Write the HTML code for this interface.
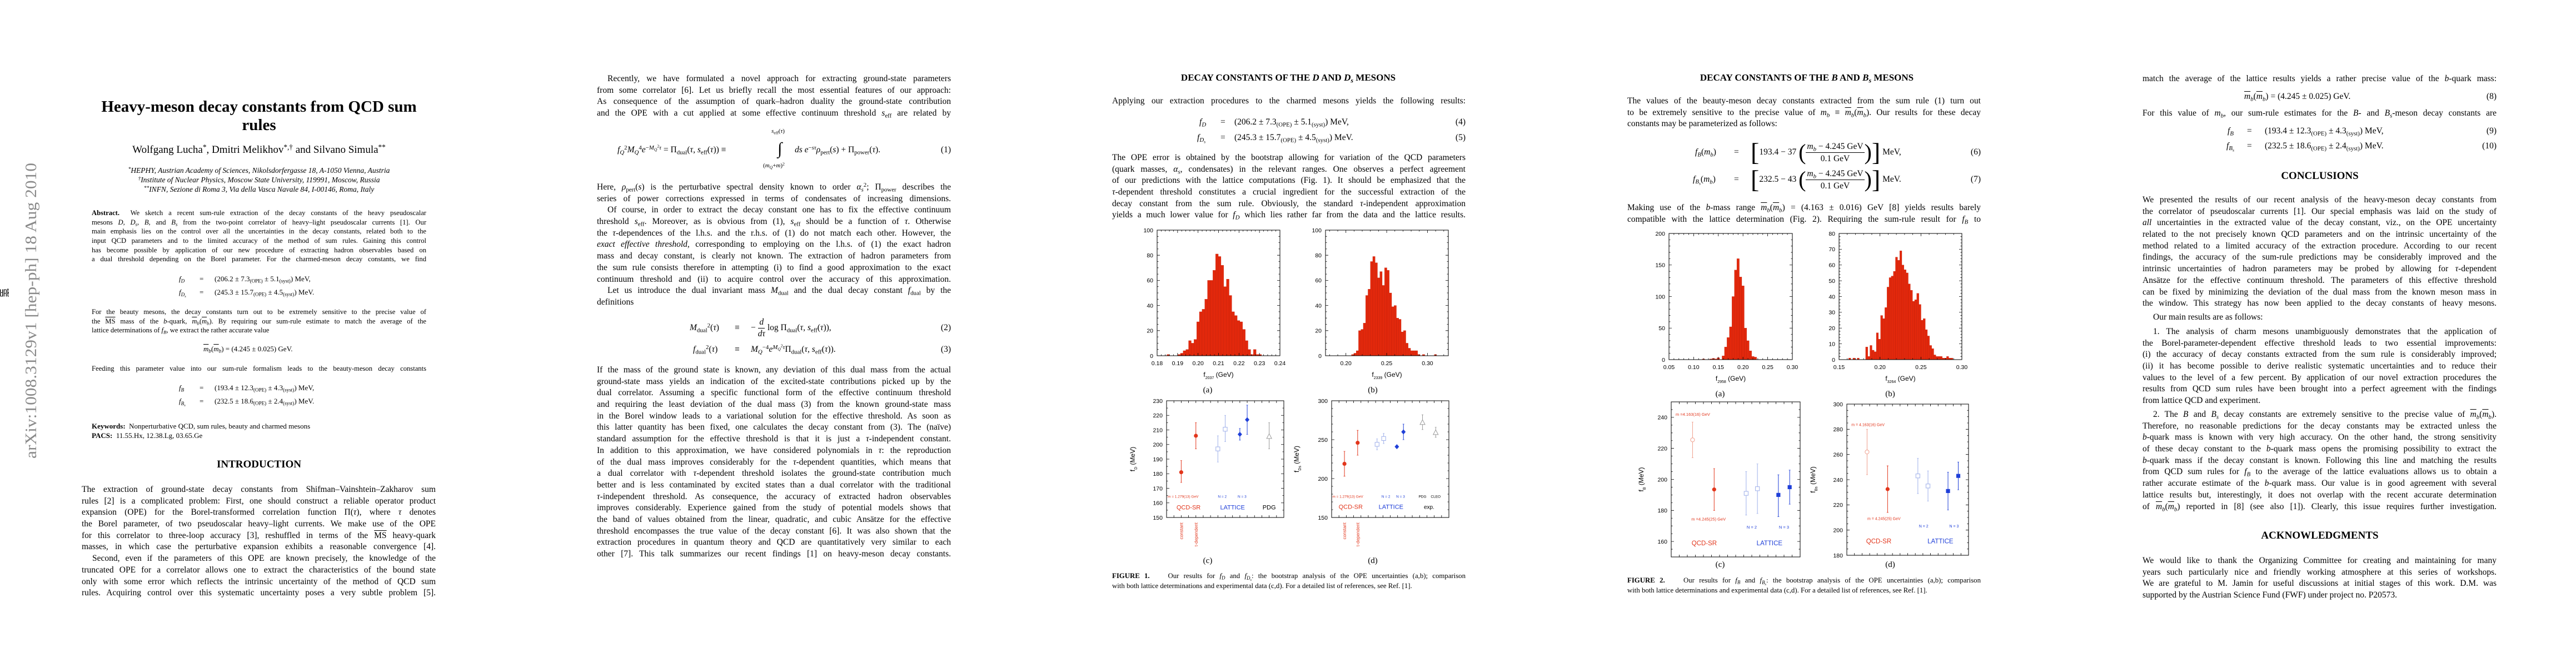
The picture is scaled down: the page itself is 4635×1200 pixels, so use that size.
<!DOCTYPE html>
<html><head><meta charset="utf-8">
<style>
html,body{margin:0;padding:0;background:#fff;}
body{width:4635px;height:1200px;position:relative;overflow:hidden;font-family:"Liberation Serif",serif;color:#000;}
.blk{position:absolute;font-size:15.5px;line-height:20.7px;}
.blk>div{text-align:justify;text-align-last:justify;white-space:nowrap;height:20.7px;}
.blk>div.e{text-align-last:left;}
.blk>div.i{padding-left:19px;}
.abs{position:absolute;white-space:nowrap;}
.sm{font-size:12.6px;line-height:16.7px;}
.sm>div{height:16.7px;}
sub,sup{font-size:70%;line-height:0;}
sub{vertical-align:-0.3em;}
sup{vertical-align:0.45em;}
.ov{text-decoration:overline;}
.hd{position:absolute;font-weight:bold;text-align:center;white-space:nowrap;transform:translateX(-50%);}
.eq{position:absolute;white-space:nowrap;font-size:15.5px;line-height:20px;}
.num{position:absolute;white-space:nowrap;font-size:15.5px;line-height:20px;text-align:right;}
.cap{position:absolute;font-size:12.8px;line-height:17px;}
.cap>div{white-space:nowrap;text-align:justify;text-align-last:justify;height:17.5px;}
.cap>div.e{text-align-last:left;}
.sl{position:absolute;font-size:15px;transform:translateX(-50%);white-space:nowrap;}
.tk{font-family:"Liberation Sans",sans-serif;font-size:10.5px;}
.fr{display:inline-flex;flex-direction:column;align-items:center;vertical-align:middle;line-height:22px;}
.fr>span:first-child{border-bottom:1px solid #000;padding:0 2px;}
</style></head>
<body>

<!-- ================= PAGE 1 ================= -->
<svg class="abs" style="left:20px;top:280px" width="60" height="560">
<text x="0" y="0" transform="translate(45,545) rotate(-90)" font-family="Liberation Serif, serif" font-size="29" fill="#8a8a8a" textLength="532" lengthAdjust="spacingAndGlyphs">arXiv:1008.3129v1  [hep-ph]  18 Aug 2010</text>
</svg>

<div class="hd" style="left:466px;top:176px;font-size:29px;line-height:33px;">Heavy-meson decay constants from QCD sum<br>rules</div>
<div class="hd" style="left:466px;top:259px;font-size:19px;font-weight:normal;">Wolfgang Lucha<sup>*</sup>, Dmitri Melikhov<sup>*,†</sup> and Silvano Simula<sup>**</sup></div>
<div class="hd" style="left:466px;top:298px;font-size:13.5px;line-height:17px;font-weight:normal;font-style:italic;"><sup>*</sup>HEPHY, Austrian Academy of Sciences, Nikolsdorfergasse 18, A-1050 Vienna, Austria<br><sup>†</sup>Institute of Nuclear Physics, Moscow State University, 119991, Moscow, Russia<br><sup>**</sup>INFN, Sezione di Roma 3, Via della Vasca Navale 84, I-00146, Roma, Italy</div>

<div class="blk sm" style="left:165px;top:375px;width:602px;">
<div><b>Abstract.</b>&nbsp; We sketch a recent sum-rule extraction of the decay constants of the heavy pseudoscalar</div>
<div>mesons <i>D</i>, <i>D<sub>s</sub></i>, <i>B</i>, and <i>B<sub>s</sub></i> from the two-point correlator of heavy–light pseudoscalar currents [1]. Our</div>
<div>main emphasis lies on the control over all the uncertainties in the decay constants, related both to the</div>
<div>input QCD parameters and to the limited accuracy of the method of sum rules. Gaining this control</div>
<div>has become possible by application of our new procedure of extracting hadron observables based on</div>
<div>a dual threshold depending on the Borel parameter. For the charmed-meson decay constants, we find</div>
</div>
<div class="eq" style="left:322px;top:492px;font-size:13px;"><i>f<sub>D</sub></i></div>
<div class="eq" style="left:359px;top:492px;font-size:13px;">=</div>
<div class="eq" style="left:386px;top:492px;font-size:13px;">(206.2 ± 7.3<sub>(OPE)</sub> ± 5.1<sub>(syst)</sub>) MeV,</div>
<div class="eq" style="left:322px;top:516px;font-size:13px;"><i>f<sub>D<sub>s</sub></sub></i></div>
<div class="eq" style="left:359px;top:516px;font-size:13px;">=</div>
<div class="eq" style="left:386px;top:516px;font-size:13px;">(245.3 ± 15.7<sub>(OPE)</sub> ± 4.5<sub>(syst)</sub>) MeV.</div>

<div class="blk sm" style="left:165px;top:553px;width:602px;">
<div>For the beauty mesons, the decay constants turn out to be extremely sensitive to the precise value of</div>
<div>the <span class="ov">MS</span> mass of the <i>b</i>-quark, <i class="ov">m</i><sub><i>b</i></sub>(<i class="ov">m</i><sub><i>b</i></sub>). By requiring our sum-rule estimate to match the average of the</div>
<div class="e">lattice determinations of <i>f<sub>B</sub></i>, we extract the rather accurate value</div>
</div>
<div class="eq" style="left:366px;top:618px;font-size:13px;"><i class="ov">m</i><sub><i>b</i></sub>(<i class="ov">m</i><sub><i>b</i></sub>) = (4.245 ± 0.025) GeV.</div>
<div class="blk sm" style="left:165px;top:655px;width:602px;">
<div>Feeding this parameter value into our sum-rule formalism leads to the beauty-meson decay constants</div>
</div>
<div class="eq" style="left:322px;top:688px;font-size:13px;"><i>f<sub>B</sub></i></div>
<div class="eq" style="left:359px;top:688px;font-size:13px;">=</div>
<div class="eq" style="left:386px;top:688px;font-size:13px;">(193.4 ± 12.3<sub>(OPE)</sub> ± 4.3<sub>(syst)</sub>) MeV,</div>
<div class="eq" style="left:322px;top:712px;font-size:13px;"><i>f<sub>B<sub>s</sub></sub></i></div>
<div class="eq" style="left:359px;top:712px;font-size:13px;">=</div>
<div class="eq" style="left:386px;top:712px;font-size:13px;">(232.5 ± 18.6<sub>(OPE)</sub> ± 2.4<sub>(syst)</sub>) MeV.</div>
<div class="abs" style="left:165px;top:758px;font-size:13px;line-height:17px;"><b>Keywords:</b>&nbsp; Nonperturbative QCD, sum rules, beauty and charmed mesons<br><b>PACS:</b>&nbsp; 11.55.Hx, 12.38.Lg, 03.65.Ge</div>

<div class="hd" style="left:466px;top:825px;font-size:19px;">INTRODUCTION</div>
<div class="blk" style="left:147px;top:871px;width:637px;">
<div>The extraction of ground-state decay constants from Shifman–Vainshtein–Zakharov sum</div>
<div>rules [2] is a complicated problem: First, one should construct a reliable operator product</div>
<div>expansion (OPE) for the Borel-transformed correlation function Π(<i>τ</i>), where <i>τ</i> denotes</div>
<div>the Borel parameter, of two pseudoscalar heavy–light currents. We make use of the OPE</div>
<div>for this correlator to three-loop accuracy [3], reshuffled in terms of the <span class="ov">MS</span> heavy-quark</div>
<div>masses, in which case the perturbative expansion exhibits a reasonable convergence [4].</div>
<div class="i">Second, even if the parameters of this OPE are known precisely, the knowledge of the</div>
<div>truncated OPE for a correlator allows one to extract the characteristics of the bound state</div>
<div>only with some error which reflects the intrinsic uncertainty of the method of QCD sum</div>
<div>rules. Acquiring control over this systematic uncertainty poses a very subtle problem [5].</div>
</div>

<!-- ================= PAGE 2 ================= -->
<div class="blk" style="left:1074px;top:132px;width:637px;">
<div class="i">Recently, we have formulated a novel approach for extracting ground-state parameters</div>
<div>from some correlator [6]. Let us briefly recall the most essential features of our approach:</div>
<div>As consequence of the assumption of quark–hadron duality the ground-state contribution</div>
<div>and the OPE with a cut applied at some effective continuum threshold <i>s</i><sub>eff</sub> are related by</div>
</div>
<div class="eq" style="left:1111px;top:260px;"><i>f</i><sub><i>Q</i></sub><sup>2</sup><i>M</i><sub><i>Q</i></sub><sup>4</sup><i>e</i><sup>−<i>M</i><sub><i>Q</i></sub><sup>2</sup><i>τ</i></sup> = Π<sub>dual</sub>(<i>τ</i>, <i>s</i><sub>eff</sub>(<i>τ</i>)) ≡</div>
<div class="eq" style="left:1399px;top:248px;font-size:30px;line-height:40px;">∫</div>
<div class="eq" style="left:1388px;top:226px;font-size:11px;"><i>s</i><sub>eff</sub>(<i>τ</i>)</div>
<div class="eq" style="left:1373px;top:288px;font-size:11px;">(<i>m<sub>Q</sub></i>+<i>m</i>)<sup>2</sup></div>
<div class="eq" style="left:1430px;top:260px;"><i>ds e</i><sup>−<i>sτ</i></sup><i>ρ</i><sub>pert</sub>(<i>s</i>) + Π<sub>power</sub>(<i>τ</i>).</div>
<div class="num" style="left:1650px;width:61px;top:260px;">(1)</div>

<div class="blk" style="left:1074px;top:327px;width:637px;">
<div>Here, <i>ρ</i><sub>pert</sub>(<i>s</i>) is the perturbative spectral density known to order <i>α</i><sub><i>s</i></sub><sup>2</sup>; Π<sub>power</sub> describes the</div>
<div>series of power corrections expressed in terms of condensates of increasing dimensions.</div>
<div class="i">Of course, in order to extract the decay constant one has to fix the effective continuum</div>
<div>threshold <i>s</i><sub>eff</sub>. Moreover, as is obvious from (1), <i>s</i><sub>eff</sub> should be a function of <i>τ</i>. Otherwise</div>
<div>the <i>τ</i>-dependences of the l.h.s. and the r.h.s. of (1) do not match each other. However, the</div>
<div><i>exact effective threshold</i>, corresponding to employing on the l.h.s. of (1) the exact hadron</div>
<div>mass and decay constant, is clearly not known. The extraction of hadron parameters from</div>
<div>the sum rule consists therefore in attempting (i) to find a good approximation to the exact</div>
<div>continuum threshold and (ii) to acquire control over the accuracy of this approximation.</div>
<div class="i">Let us introduce the dual invariant mass <i>M</i><sub>dual</sub> and the dual decay constant <i>f</i><sub>dual</sub> by the</div>
<div class="e">definitions</div>
</div>
<div class="eq" style="left:1241px;top:580px;"><i>M</i><sub>dual</sub><sup>2</sup>(<i>τ</i>)</div>
<div class="eq" style="left:1322px;top:580px;">≡</div>
<div class="eq" style="left:1351px;top:568px;line-height:44px;">− <span class="fr" style="line-height:20px;"><span><i>d</i></span><span><i>dτ</i></span></span> log Π<sub>dual</sub>(<i>τ</i>, <i>s</i><sub>eff</sub>(<i>τ</i>)),</div>
<div class="num" style="left:1650px;width:61px;top:580px;">(2)</div>
<div class="eq" style="left:1247px;top:619px;"><i>f</i><sub>dual</sub><sup>2</sup>(<i>τ</i>)</div>
<div class="eq" style="left:1322px;top:619px;">≡</div>
<div class="eq" style="left:1351px;top:619px;"><i>M</i><sub><i>Q</i></sub><sup>−4</sup><i>e</i><sup><i>M</i><sub><i>Q</i></sub><sup>2</sup><i>τ</i></sup>Π<sub>dual</sub>(<i>τ</i>, <i>s</i><sub>eff</sub>(<i>τ</i>)).</div>
<div class="num" style="left:1650px;width:61px;top:619px;">(3)</div>

<div class="blk" style="left:1074px;top:656px;width:637px;">
<div>If the mass of the ground state is known, any deviation of this dual mass from the actual</div>
<div>ground-state mass yields an indication of the excited-state contributions picked up by the</div>
<div>dual correlator. Assuming a specific functional form of the effective continuum threshold</div>
<div>and requiring the least deviation of the dual mass (3) from the known ground-state mass</div>
<div>in the Borel window leads to a variational solution for the effective threshold. As soon as</div>
<div>this latter quantity has been fixed, one calculates the decay constant from (3). The (naïve)</div>
<div>standard assumption for the effective threshold is that it is just a <i>τ</i>-independent constant.</div>
<div>In addition to this approximation, we have considered polynomials in <i>τ</i>: the reproduction</div>
<div>of the dual mass improves considerably for the <i>τ</i>-dependent quantities, which means that</div>
<div>a dual correlator with <i>τ</i>-dependent threshold isolates the ground-state contribution much</div>
<div>better and is less contaminated by excited states than a dual correlator with the traditional</div>
<div><i>τ</i>-independent threshold. As consequence, the accuracy of extracted hadron observables</div>
<div>improves considerably. Experience gained from the study of potential models shows that</div>
<div>the band of values obtained from the linear, quadratic, and cubic Ansätze for the effective</div>
<div>threshold encompasses the true value of the decay constant [6]. It was also shown that the</div>
<div>extraction procedures in quantum theory and QCD are quantitatively very similar to each</div>
<div>other [7]. This talk summarizes our recent findings [1] on heavy-meson decay constants.</div>
</div>

<!-- ================= PAGE 3 ================= -->
<div class="hd" style="left:2318px;top:130px;font-size:17px;">DECAY CONSTANTS OF THE <i>D</i> AND <i>D<sub>s</sub></i> MESONS</div>
<div class="blk" style="left:2001px;top:172px;width:636px;">
<div>Applying our extraction procedures to the charmed mesons yields the following results:</div>
</div>
<div class="eq" style="left:2158px;top:210px;"><i>f<sub>D</sub></i></div>
<div class="eq" style="left:2196px;top:210px;">=</div>
<div class="eq" style="left:2221px;top:210px;">(206.2 ± 7.3<sub>(OPE)</sub> ± 5.1<sub>(syst)</sub>) MeV,</div>
<div class="num" style="left:2580px;width:57px;top:210px;">(4)</div>
<div class="eq" style="left:2154px;top:238px;"><i>f<sub>D<sub>s</sub></sub></i></div>
<div class="eq" style="left:2196px;top:238px;">=</div>
<div class="eq" style="left:2221px;top:238px;">(245.3 ± 15.7<sub>(OPE)</sub> ± 4.5<sub>(syst)</sub>) MeV.</div>
<div class="num" style="left:2580px;width:57px;top:238px;">(5)</div>
<div class="blk" style="left:2001px;top:274px;width:636px;">
<div>The OPE error is obtained by the bootstrap allowing for variation of the QCD parameters</div>
<div>(quark masses, <i>α<sub>s</sub></i>, condensates) in the relevant ranges. One observes a perfect agreement</div>
<div>of our predictions with the lattice computations (Fig. 1). It should be emphasized that the</div>
<div><i>τ</i>-dependent threshold constitutes a crucial ingredient for the successful extraction of the</div>
<div>decay constant from the sum rule. Obviously, the standard <i>τ</i>-independent approximation</div>
<div>yields a much lower value for <i>f<sub>D</sub></i> which lies rather far from the data and the lattice results.</div>
</div>
<div class="sl" style="left:2173px;top:694px;">(a)</div>
<div class="sl" style="left:2470px;top:694px;">(b)</div>
<div class="sl" style="left:2173px;top:1001px;">(c)</div>
<div class="sl" style="left:2470px;top:1001px;">(d)</div>
<div class="cap" style="left:2001px;top:1028px;width:636px;">
<div><b>FIGURE 1.</b>&nbsp;&nbsp;&nbsp; Our results for <i>f<sub>D</sub></i> and <i>f<sub>D<sub>s</sub></sub></i>: the bootstrap analysis of the OPE uncertainties (a,b); comparison</div>
<div class="e">with both lattice determinations and experimental data (c,d). For a detailed list of references, see Ref. [1].</div>
</div>

<!-- ================= PAGE 4 ================= -->
<div class="hd" style="left:3251px;top:130px;font-size:17px;">DECAY CONSTANTS OF THE <i>B</i> AND <i>B<sub>s</sub></i> MESONS</div>
<div class="blk" style="left:2928px;top:172px;width:636px;">
<div>The values of the beauty-meson decay constants extracted from the sum rule (1) turn out</div>
<div>to be extremely sensitive to the precise value of <i>m<sub>b</sub></i> ≡ <i class="ov">m</i><sub><i>b</i></sub>(<i class="ov">m</i><sub><i>b</i></sub>). Our results for these decay</div>
<div class="e">constants may be parameterized as follows:</div>
</div>
<div class="eq" style="left:3050px;top:264px;"><i>f<sub>B</sub></i>(<i>m<sub>b</sub></i>)</div>
<div class="eq" style="left:3120px;top:264px;">=</div>
<div class="eq" style="left:3150px;top:249px;line-height:50px;display:flex;align-items:center;"><span style="font-size:46px;font-weight:100;">[</span>193.4 − 37&nbsp;<span style="font-size:40px;">(</span><span class="fr" style="line-height:21px;"><span><i>m<sub>b</sub></i> − 4.245 GeV</span><span>0.1 GeV</span></span><span style="font-size:40px;">)</span><span style="font-size:46px;">]</span>&nbsp;MeV,</div>
<div class="num" style="left:3500px;width:64px;top:264px;">(6)</div>
<div class="eq" style="left:3046px;top:313px;"><i>f<sub>B<sub>s</sub></sub></i>(<i>m<sub>b</sub></i>)</div>
<div class="eq" style="left:3120px;top:313px;">=</div>
<div class="eq" style="left:3150px;top:298px;line-height:50px;display:flex;align-items:center;"><span style="font-size:46px;">[</span>232.5 − 43&nbsp;<span style="font-size:40px;">(</span><span class="fr" style="line-height:21px;"><span><i>m<sub>b</sub></i> − 4.245 GeV</span><span>0.1 GeV</span></span><span style="font-size:40px;">)</span><span style="font-size:46px;">]</span>&nbsp;MeV.</div>
<div class="num" style="left:3500px;width:64px;top:313px;">(7)</div>
<div class="blk" style="left:2928px;top:364px;width:636px;">
<div>Making use of the <i>b</i>-mass range <i class="ov">m</i><sub><i>b</i></sub>(<i class="ov">m</i><sub><i>b</i></sub>) = (4.163 ± 0.016) GeV [8] yields results barely</div>
<div>compatible with the lattice determination (Fig. 2). Requiring the sum-rule result for <i>f<sub>B</sub></i> to</div>
</div>
<div class="sl" style="left:3095px;top:701px;">(a)</div>
<div class="sl" style="left:3401px;top:701px;">(b)</div>
<div class="sl" style="left:3095px;top:1008px;">(c)</div>
<div class="sl" style="left:3401px;top:1008px;">(d)</div>
<div class="cap" style="left:2928px;top:1036px;width:636px;">
<div><b>FIGURE 2.</b>&nbsp;&nbsp;&nbsp; Our results for <i>f<sub>B</sub></i> and <i>f<sub>B<sub>s</sub></sub></i>: the bootstrap analysis of the OPE uncertainties (a,b); comparison</div>
<div class="e">with both lattice determinations and experimental data (c,d). For a detailed list of references, see Ref. [1].</div>
</div>

<!-- ================= PAGE 5 ================= -->
<div class="blk" style="left:3855px;top:132px;width:637px;">
<div>match the average of the lattice results yields a rather precise value of the <i>b</i>-quark mass:</div>
</div>
<div class="eq" style="left:4038px;top:164px;"><i class="ov">m</i><sub><i>b</i></sub>(<i class="ov">m</i><sub><i>b</i></sub>) = (4.245 ± 0.025) GeV.</div>
<div class="num" style="left:4430px;width:62px;top:164px;">(8)</div>
<div class="blk" style="left:3855px;top:194px;width:637px;">
<div>For this value of <i>m<sub>b</sub></i>, our sum-rule estimates for the <i>B</i>- and <i>B<sub>s</sub></i>-meson decay constants are</div>
</div>
<div class="eq" style="left:4008px;top:226px;"><i>f<sub>B</sub></i></div>
<div class="eq" style="left:4043px;top:226px;">=</div>
<div class="eq" style="left:4075px;top:226px;">(193.4 ± 12.3<sub>(OPE)</sub> ± 4.3<sub>(syst)</sub>) MeV,</div>
<div class="num" style="left:4430px;width:62px;top:226px;">(9)</div>
<div class="eq" style="left:4006px;top:253px;"><i>f<sub>B<sub>s</sub></sub></i></div>
<div class="eq" style="left:4043px;top:253px;">=</div>
<div class="eq" style="left:4075px;top:253px;">(232.5 ± 18.6<sub>(OPE)</sub> ± 2.4<sub>(syst)</sub>) MeV.</div>
<div class="num" style="left:4430px;width:62px;top:253px;">(10)</div>

<div class="hd" style="left:4174px;top:306px;font-size:19px;">CONCLUSIONS</div>
<div class="blk" style="left:3855px;top:350px;width:637px;">
<div>We presented the results of our recent analysis of the heavy-meson decay constants from</div>
<div>the correlator of pseudoscalar currents [1]. Our special emphasis was laid on the study of</div>
<div><i>all</i> uncertainties in the extracted value of the decay constant, viz., on the OPE uncertainty</div>
<div>related to the not precisely known QCD parameters and on the intrinsic uncertainty of the</div>
<div>method related to a limited accuracy of the extraction procedure. According to our recent</div>
<div>findings, the accuracy of the sum-rule predictions may be considerably improved and the</div>
<div>intrinsic uncertainties of hadron parameters may be probed by allowing for <i>τ</i>-dependent</div>
<div>Ansätze for the effective continuum threshold. The parameters of this effective threshold</div>
<div>can be fixed by minimizing the deviation of the dual mass from the known meson mass in</div>
<div>the window. This strategy has now been applied to the decay constants of heavy mesons.</div>
</div>
<div class="blk" style="left:3855px;top:561px;width:637px;">
<div class="i e">Our main results are as follows:</div>
</div>
<div class="blk" style="left:3855px;top:587px;width:637px;">
<div class="i">1. The analysis of charm mesons unambiguously demonstrates that the application of</div>
<div>the Borel-parameter-dependent effective threshold leads to two essential improvements:</div>
<div>(i) the accuracy of decay constants extracted from the sum rule is considerably improved;</div>
<div>(ii) it has become possible to derive realistic systematic uncertainties and to reduce their</div>
<div>values to the level of a few percent. By application of our novel extraction procedures the</div>
<div>results from QCD sum rules have been brought into a perfect agreement with the findings</div>
<div class="e">from lattice QCD and experiment.</div>
</div>
<div class="blk" style="left:3855px;top:736px;width:637px;">
<div class="i">2. The <i>B</i> and <i>B<sub>s</sub></i> decay constants are extremely sensitive to the precise value of <i class="ov">m</i><sub><i>b</i></sub>(<i class="ov">m</i><sub><i>b</i></sub>).</div>
<div>Therefore, no reasonable predictions for the decay constants may be extracted unless the</div>
<div><i>b</i>-quark mass is known with very high accuracy. On the other hand, the strong sensitivity</div>
<div>of these decay constant to the <i>b</i>-quark mass opens the promising possibility to extract the</div>
<div><i>b</i>-quark mass if the decay constant is known. Following this line and matching the results</div>
<div>from QCD sum rules for <i>f<sub>B</sub></i> to the average of the lattice evaluations allows us to obtain a</div>
<div>rather accurate estimate of the <i>b</i>-quark mass. Our value is in good agreement with several</div>
<div>lattice results but, interestingly, it does not overlap with the recent accurate determination</div>
<div>of <i class="ov">m</i><sub><i>b</i></sub>(<i class="ov">m</i><sub><i>b</i></sub>) reported in [8] (see also [1]). Clearly, this issue requires further investigation.</div>
</div>
<div class="hd" style="left:4174px;top:953px;font-size:19px;">ACKNOWLEDGMENTS</div>
<div class="blk" style="left:3855px;top:999px;width:637px;">
<div>We would like to thank the Organizing Committee for creating and maintaining for many</div>
<div>years such particularly nice and friendly working atmosphere at this series of workshops.</div>
<div>We are grateful to M. Jamin for useful discussions at initial stages of this work. D.M. was</div>
<div class="e">supported by the Austrian Science Fund (FWF) under project no. P20573.</div>
</div>

<!-- ================= CHARTS ================= -->
<svg id="charts" class="abs" style="left:0;top:0" width="4635" height="1200"></svg>

<script>
// ---------- DATA ----------
// Fig 1a: f_D histogram (GeV)
const fig1aStart = 0.1848;
const fig1aBinWidth = 0.00132;
const fig1aCounts = [1,0,0,0,1,2,4,5,12,10,13,27,35,37,45,60,60,68,81,79,72,55,61,48,35,32,28,27,21,12,5,1,5,1,1];
const fig1aXTicks = [0.18,0.19,0.20,0.21,0.22,0.23,0.24];
const fig1aXLabels = ['0.18','0.19','0.20','0.21','0.22','0.23','0.24'];
const fig1aYTicks = [0,20,40,60,80,100];
const fig1aYLabels = ['0','20','40','60','80','100'];
// Fig 1b: f_Ds histogram
const fig1bStart = 0.2068;
const fig1bBinWidth = 0.0029;
const fig1bCounts = [1,2,4,20,21,26,48,53,75,79,74,62,67,56,70,68,50,39,40,30,29,19,20,10,6,4,4,4,1,0,1,0,0,0,0,1];
const fig1bXTicks = [0.20,0.25,0.30];
const fig1bXLabels = ['0.20','0.25','0.30'];
const fig1bYTicks = [0,20,40,60,80,100];
const fig1bYLabels = ['0','20','40','60','80','100'];
// Fig 2a: f_B histogram
const fig2aStart = 0.1175;
const fig2aBinWidth = 0.005;
const fig2aCounts = [1,0,0,1,2,1,3,0,6,20,35,52,100,142,160,131,117,50,30,14,5,4];
const fig2aXTicks = [0.05,0.10,0.15,0.20,0.25,0.30];
const fig2aXLabels = ['0.05','0.10','0.15','0.20','0.25','0.30'];
const fig2aYTicks = [0,50,100,150,200];
const fig2aYLabels = ['0','50','100','150','200'];
// Fig 2b: f_Bs histogram
const fig2bStart = 0.1617;
const fig2bBinWidth = 0.0026;
const fig2bCounts = [1,0,1,0,1,0,0,0,8,2,9,6,5,17,13,28,26,33,46,52,53,56,65,63,69,60,57,55,48,44,37,38,42,35,25,26,19,15,9,7,3,2,2,2,1,1,2,1,1];
const fig2bXTicks = [0.15,0.20,0.25,0.30];
const fig2bXLabels = ['0.15','0.20','0.25','0.30'];
const fig2bYTicks = [0,10,20,30,40,50,60,70,80];
const fig2bYLabels = ['0','10','20','30','40','50','60','70','80'];

// Fig 1c: f_D comparison (MeV), x in category slots
const fig1cSlot = [2,4,7,8,10,11,14];
const fig1cValue = [181,206,197,210.5,207,217,205.5];
const fig1cLow = [174,197,188,202,203,207,197];
const fig1cHigh = [189,215,206,220,211,227,215];
const fig1cMarker = ['fc','fc','os','os','fd','fd','ot'];
const fig1cYTicks = [150,160,170,180,190,200,210,220,230];
const fig1cYLabels = ['150','160','170','180','190','200','210','220','230'];
// Fig 1d: f_Ds comparison
const fig1dSlot = [1.75,3.55,6.2,7.1,8.9,9.8,12.4,14.2];
const fig1dValue = [219,246,244,251.5,241,260,272,259];
const fig1dLow = [203,230,237,245,240,250,263,253];
const fig1dHigh = [235,262,251,258,242,270,282,266];
const fig1dMarker = ['fc','fc','os','os','fd','fd','ot','ot'];
const fig1dYTicks = [150,200,250,300];
const fig1dYLabels = ['150','200','250','300'];
// Fig 2c: f_B comparison
const fig2cSlot = [2.65,5.33,9.3,10.7,13.3,14.7];
const fig2cValue = [225.5,193.5,191,194,190,195];
const fig2cLow = [214,180,177,178,176,184];
const fig2cHigh = [237,207,205,210,203,206];
const fig2cMarker = ['oc','fc','os','os','fs','fs'];
const fig2cYTicks = [160,180,200,220,240];
const fig2cYLabels = ['160','180','200','220','240'];
// Fig 2d: f_Bs comparison
const fig2dSlot = [2.66,5.36,9.34,10.67,13.3,14.65];
const fig2dValue = [262,232.5,243,235,231,243];
const fig2dLow = [244,214,229,223,216,232];
const fig2dHigh = [280,251,257,247,246,254];
const fig2dMarker = ['oc','fc','os','os','fs','fs'];
const fig2dYTicks = [180,200,220,240,260,280,300];
const fig2dYLabels = ['180','200','220','240','260','280','300'];

// ---------- DRAWING ----------
const NS = 'http://www.w3.org/2000/svg';
const svg = document.getElementById('charts');
function el(tag, attrs, txt) {
  const e = document.createElementNS(NS, tag);
  for (const k in attrs) e.setAttribute(k, attrs[k]);
  if (txt !== undefined) e.textContent = txt;
  svg.appendChild(e);
  return e;
}
function lin(d0, d1, r0, r1) { return v => r0 + (v - d0) / (d1 - d0) * (r1 - r0); }
function steps(a, b, s) { const r = []; for (let v = a; v <= b + s * 1e-6; v += s) r.push(v); return r; }
const RED = '#e2361c', BLUE = '#1f3fd8', LBLUE = '#9fb0ea', LRED = '#f0a08e', GRAY = '#9a9a9a';

function frame(b, sx, sy, xt, xl, xm, yt, yl, ym, name, xTickLen) {
  const r = el('rect', {x: b.x0, y: b.y0, width: b.x1 - b.x0, height: b.y1 - b.y0, fill: 'none', stroke: '#000', 'stroke-width': 1});
  
  
  let d = '';
  xm.forEach(v => { const x = sx(v); if (x < b.x0 - 0.5 || x > b.x1 + 0.5) return; d += `M${x} ${b.y1}v-2.5M${x} ${b.y0}v2.5`; });
  xt.forEach(v => { const x = sx(v); d += `M${x} ${b.y1}v-${xTickLen}M${x} ${b.y0}v${xTickLen}`; });
  ym.forEach(v => { const y = sy(v); if (y < b.y0 - 0.5 || y > b.y1 + 0.5) return; d += `M${b.x0} ${y}h2.5M${b.x1} ${y}h-2.5`; });
  yt.forEach(v => { const y = sy(v); d += `M${b.x0} ${y}h5M${b.x1} ${y}h-5`; });
  const p = el('path', {d: d, stroke: '#000', 'stroke-width': 0.8, fill: 'none'});
  
  
  xl.forEach((t, i) => {
    const tx = el('text', {x: sx(xt[i]), y: b.y1 + 17, 'text-anchor': 'middle', class: 'tk'}, t);
    
    
  });
  yl.forEach((t, i) => {
    const ty = el('text', {x: b.x0 - 7, y: sy(yt[i]) + 3.8, 'text-anchor': 'end', class: 'tk'}, t);
    
    
  });
}

function histogram(b, xd, yd, start, w, counts, xt, xl, xminStep, yt, yl, yminStep, name, xlab, xsub, ylabX, note) {
  const sx = lin(xd[0], xd[1], b.x0, b.x1);
  const sy = lin(yd[0], yd[1], b.y1, b.y0);
  counts.forEach((c, i) => {
    if (c <= 0) return;
    const x0 = sx(start + i * w), x1 = sx(start + (i + 1) * w);
    const rc = el('rect', {x: x0, y: sy(c), width: Math.max(0.5, x1 - x0), height: sy(0) - sy(c), fill: '#e2280c', stroke: '#b81a05', 'stroke-width': 0.3});
    
    
  });
  frame(b, sx, sy, xt, xl, steps(xd[0] - (xd[0] % xminStep), xd[1], xminStep), yt, yl, steps(yd[0], yd[1], yminStep), name, 5);
  const xt2 = el('text', {x: (b.x0 + b.x1) / 2, y: b.y1 + 38, 'text-anchor': 'middle', 'font-family': 'Liberation Sans, sans-serif', 'font-size': 12});
  
  
  const t1 = document.createElementNS(NS, 'tspan'); t1.textContent = 'f'; xt2.appendChild(t1);
  const t2 = document.createElementNS(NS, 'tspan'); t2.setAttribute('font-size', 7); t2.setAttribute('dy', 4); t2.textContent = xsub; xt2.appendChild(t2);
  const t3 = document.createElementNS(NS, 'tspan'); t3.setAttribute('dy', -4); t3.textContent = ' (GeV)'; xt2.appendChild(t3);
  const yc = (b.y0 + b.y1) / 2;
  const yt2 = el('text', {x: ylabX, y: yc, 'text-anchor': 'middle', transform: `rotate(-90 ${ylabX} ${yc})`, 'font-family': 'Liberation Sans, sans-serif', 'font-size': 12}, 'Count');
  
  
  const nt = el('text', {x: b.x0 + 13, y: b.y0 + 24, 'font-family': 'Liberation Sans, sans-serif', 'font-size': 8.5}, note);
  
  
}

function marker(x, y, kind, name) {
  let m;
  const s = 3.6;
  if (kind === 'fc') m = el('circle', {cx: x, cy: y, r: s, fill: RED});
  else if (kind === 'oc') m = el('circle', {cx: x, cy: y, r: s, fill: '#fff', stroke: LRED, 'stroke-width': 1});
  else if (kind === 'os') m = el('rect', {x: x - s, y: y - s, width: 2 * s, height: 2 * s, fill: '#fff', stroke: LBLUE, 'stroke-width': 1});
  else if (kind === 'fs') m = el('rect', {x: x - s, y: y - s, width: 2 * s, height: 2 * s, fill: BLUE});
  else if (kind === 'fd') m = el('path', {d: `M${x} ${y - 4.5}L${x + 4} ${y}L${x} ${y + 4.5}L${x - 4} ${y}Z`, fill: BLUE});
  else m = el('path', {d: `M${x} ${y - 5}L${x + 4.5} ${y + 3.5}L${x - 4.5} ${y + 3.5}Z`, fill: '#fff', stroke: GRAY, 'stroke-width': 1});
  
  
}
function colorOf(kind) { return kind === 'fc' ? RED : kind === 'oc' ? LRED : kind === 'os' ? LBLUE : kind === 'ot' ? GRAY : BLUE; }

function comparison(b, yd, slots, vals, lo, hi, kinds, yt, yl, yminStep, name, ysub, ylabX) {
  const sx = lin(0, 16, b.x0, b.x1);
  const sy = lin(yd[0], yd[1], b.y1, b.y0);
  frame(b, sx, sy, steps(1, 15, 1), [], [], yt, yl, steps(yd[0], yd[1], yminStep), name, 4);
  slots.forEach((s, i) => {
    const eb = el('line', {x1: sx(s), x2: sx(s), y1: sy(lo[i]), y2: sy(hi[i]), stroke: colorOf(kinds[i]), 'stroke-width': 1});
    
    
    const cap = el('path', {d: `M${sx(s) - 1.5} ${sy(lo[i])}h3M${sx(s) - 1.5} ${sy(hi[i])}h3`, stroke: colorOf(kinds[i]), 'stroke-width': 0.8});
    
    
    marker(sx(s), sy(vals[i]), kinds[i], name);
  });
  const yc = (b.y0 + b.y1) / 2;
  const yt2 = el('text', {x: ylabX, y: yc, 'text-anchor': 'middle', transform: `rotate(-90 ${ylabX} ${yc})`, 'font-family': 'Liberation Sans, sans-serif', 'font-size': 12});
  
  
  const a = document.createElementNS(NS, 'tspan'); a.textContent = 'f'; yt2.appendChild(a);
  const c = document.createElementNS(NS, 'tspan'); c.setAttribute('font-size', 7); c.setAttribute('dy', 4); c.textContent = ysub; yt2.appendChild(c);
  const d = document.createElementNS(NS, 'tspan'); d.setAttribute('dy', -4); d.textContent = ' (MeV)'; yt2.appendChild(d);
  return {sx: sx, sy: sy};
}
function note(ax, slot, val, txt, color, size, anchor, name) {
  const t = el('text', {x: ax.sx(slot), y: ax.sy(val), fill: color, 'font-family': 'Liberation Sans, sans-serif', 'font-size': size, 'text-anchor': anchor || 'start'}, txt);
  
  
}
function vnote(ax, slot, y, txt, color, name) {
  const x = ax.sx(slot) + 3;
  const t = el('text', {x: x, y: y, fill: color, 'font-family': 'Liberation Sans, sans-serif', 'font-size': 8, 'text-anchor': 'end', transform: `rotate(-90 ${x} ${y})`}, txt);
  
  
}

// Figure 1 histograms
histogram({x0: 2082, x1: 2303, y0: 414, y1: 640}, [0.18, 0.24], [0, 100], fig1aStart, fig1aBinWidth, fig1aCounts,
  fig1aXTicks, fig1aXLabels, 0.002, fig1aYTicks, fig1aYLabels, 5, 'fig1a-histogram', 'D', 2037, 'm  = 1.279 ± 0.013 GeV');
histogram({x0: 2385, x1: 2606, y0: 414, y1: 640}, [0.175, 0.3256], [0, 100], fig1bStart, fig1bBinWidth, fig1bCounts,
  fig1bXTicks, fig1bXLabels, 0.01, fig1bYTicks, fig1bYLabels, 5, 'fig1b-histogram', 'Ds', 2339, 'm  = 1.279 ± 0.013 GeV');
// Figure 2 histograms
histogram({x0: 3003, x1: 3225, y0: 420, y1: 647}, [0.05, 0.30], [0, 200], fig2aStart, fig2aBinWidth, fig2aCounts,
  fig2aXTicks, fig2aXLabels, 0.01, fig2aYTicks, fig2aYLabels, 10, 'fig2a-histogram', 'B', 2958, 'm  = 4.245 ± 0.025 GeV');
histogram({x0: 3309, x1: 3530, y0: 420, y1: 647}, [0.15, 0.30], [0, 80], fig2bStart, fig2bBinWidth, fig2bCounts,
  fig2bXTicks, fig2bXLabels, 0.01, fig2bYTicks, fig2bYLabels, 2, 'fig2b-histogram', 'Bs', 3264, 'm  = 4.245 ± 0.025 GeV');

// Figure 1 comparisons
const c1 = comparison({x0: 2099, x1: 2310, y0: 721, y1: 931}, [150, 230], fig1cSlot, fig1cValue, fig1cLow, fig1cHigh, fig1cMarker,
  fig1cYTicks, fig1cYLabels, 5, 'fig1c-comparison', 'D', 2042);
note(c1, 0.15, 163.5, 'm  = 1.279(13) GeV', RED, 6.5, 'start', 'fig1c-mc-note');
note(c1, 7.6, 163.5, 'N  = 2', BLUE, 6.5, 'middle', 'fig1c-nf2-note');
note(c1, 10.3, 163.5, 'N  = 3', BLUE, 6.5, 'middle', 'fig1c-nf3-note');
note(c1, 3, 155.5, 'QCD-SR', RED, 11, 'middle', 'fig1c-qcdsr-label');
note(c1, 9, 155.5, 'LATTICE', BLUE, 11, 'middle', 'fig1c-lattice-label');
note(c1, 14, 155.5, 'PDG', '#000', 11, 'middle', 'fig1c-pdg-label');
vnote(c1, 2, 940, 'constant', RED, 'fig1c-constant-label');
vnote(c1, 4, 940, 'τ-dependent', RED, 'fig1c-tau-label');

const c2 = comparison({x0: 2396, x1: 2607, y0: 721, y1: 931}, [150, 300], fig1dSlot, fig1dValue, fig1dLow, fig1dHigh, fig1dMarker,
  fig1dYTicks, fig1dYLabels, 10, 'fig1d-comparison', 'Ds', 2337);
note(c2, 0.1, 175.5, 'm  = 1.279(13) GeV', RED, 6.5, 'start', 'fig1d-mc-note');
note(c2, 7.4, 175.5, 'N  = 2', BLUE, 6.5, 'middle', 'fig1d-nf2-note');
note(c2, 9.4, 175.5, 'N  = 3', BLUE, 6.5, 'middle', 'fig1d-nf3-note');
note(c2, 12.4, 175.5, 'PDG', '#000', 6.5, 'middle', 'fig1d-pdg-note');
note(c2, 14.2, 175.5, 'CLEO', '#000', 6.5, 'middle', 'fig1d-cleo-note');
note(c2, 2.6, 161, 'QCD-SR', RED, 11, 'middle', 'fig1d-qcdsr-label');
note(c2, 8.1, 161, 'LATTICE', BLUE, 11, 'middle', 'fig1d-lattice-label');
note(c2, 13.3, 161, 'exp.', '#000', 10, 'middle', 'fig1d-exp-label');
vnote(c2, 1.75, 940, 'constant', RED, 'fig1d-constant-label');
vnote(c2, 3.55, 940, 'τ-dependent', RED, 'fig1d-tau-label');

// Figure 2 comparisons
const c3 = comparison({x0: 3007, x1: 3239, y0: 723, y1: 1002}, [150, 250], fig2cSlot, fig2cValue, fig2cLow, fig2cHigh, fig2cMarker,
  fig2cYTicks, fig2cYLabels, 5, 'fig2c-comparison', 'B', 2957);
note(c3, 0.55, 241, 'm =4.163(16) GeV', RED, 7.5, 'start', 'fig2c-mb-upper-note');
note(c3, 2.5, 173.5, 'm =4.245(25) GeV', RED, 7.5, 'start', 'fig2c-mb-lower-note');
note(c3, 10, 168.3, 'N  = 2', BLUE, 7.5, 'middle', 'fig2c-nf2-note');
note(c3, 14, 168.3, 'N  = 3', BLUE, 7.5, 'middle', 'fig2c-nf3-note');
note(c3, 4.1, 157.5, 'QCD-SR', RED, 11.5, 'middle', 'fig2c-qcdsr-label');
note(c3, 12.2, 157.5, 'LATTICE', BLUE, 11.5, 'middle', 'fig2c-lattice-label');

const c4 = comparison({x0: 3323, x1: 3542, y0: 727, y1: 999}, [180, 300], fig2dSlot, fig2dValue, fig2dLow, fig2dHigh, fig2dMarker,
  fig2dYTicks, fig2dYLabels, 5, 'fig2d-comparison', 'Bs', 3266);
note(c4, 0.6, 282.5, 'm  = 4.163(16) GeV', RED, 7, 'start', 'fig2d-mb-upper-note');
note(c4, 2.7, 208, 'm  = 4.245(25) GeV', RED, 7, 'start', 'fig2d-mb-lower-note');
note(c4, 10.1, 202, 'N  = 2', BLUE, 7, 'middle', 'fig2d-nf2-note');
note(c4, 14.1, 202, 'N  = 3', BLUE, 7, 'middle', 'fig2d-nf3-note');
note(c4, 4.2, 189.5, 'QCD-SR', RED, 11.5, 'middle', 'fig2d-qcdsr-label');
note(c4, 12.3, 189.5, 'LATTICE', BLUE, 11.5, 'middle', 'fig2d-lattice-label');
</script>
</body></html>
